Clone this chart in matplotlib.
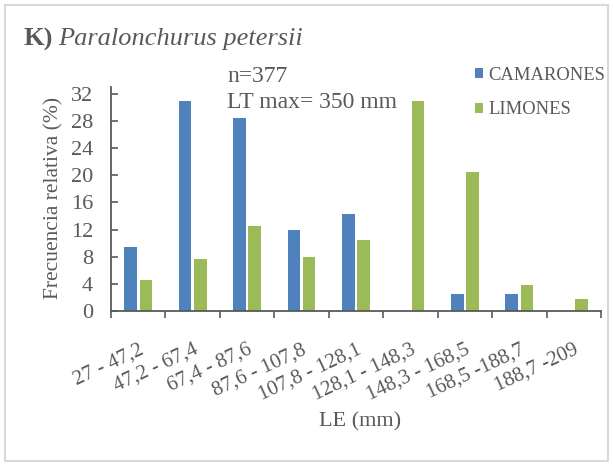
import numpy as np
import matplotlib.pyplot as plt
from matplotlib.patches import Rectangle

# Data
categories = ["27 - 47,2", "47,2 - 67,4", "67,4 - 87,6", "87,6 - 107,8", "107,8 - 128,1",
              "128,1 - 148,3", "148,3 - 168,5", "168,5 -188,7", "188,7 -209"]
camarones = [9.5, 31.0, 28.5, 12.0, 14.3, 0.0, 2.5, 2.5, 0.0]
limones = [4.5, 7.6, 12.5, 8.0, 10.5, 31.0, 20.5, 3.8, 1.7]
y_ticks = [0, 4, 8, 12, 16, 20, 24, 28, 32]

serif = ['Liberation Serif', 'DejaVu Serif']
plt.rcParams['font.family'] = serif
grey = '#595959'

fig = plt.figure(figsize=(6.13, 4.66), dpi=100)
ax = fig.add_axes([111 / 613, 1 - 311 / 466, 490 / 613, 224 / 466])

x = np.arange(len(categories))
w = 0.23
ax.bar(x - 0.14, camarones, w, color='#4F81BD', label='CAMARONES')
ax.bar(x + 0.14, limones, w, color='#9BBB59', label='LIMONES')

ax.set_xlim(-0.5, len(categories) - 0.5)
ax.set_ylim(0, 33)
ax.set_yticks(y_ticks)
ax.set_xticks(x)
ax.set_xticklabels(categories, rotation=25, ha='right', rotation_mode='anchor')
ax.set_xticks(np.arange(len(categories) + 1) - 0.5, minor=True)
ax.tick_params(axis='x', which='major', length=0, pad=21, labelsize=15, labelcolor=grey)
ax.tick_params(axis='x', which='minor', length=5, direction='out', color=grey, width=1.2)
ax.tick_params(axis='y', length=5, direction='in', color=grey, width=1.2,
               labelsize=16, labelcolor=grey, pad=13)

for s in ['top', 'right']:
    ax.spines[s].set_visible(False)
for s in ['left', 'bottom']:
    ax.spines[s].set_color(grey)
    ax.spines[s].set_linewidth(1.3)

fig.text(54 / 613, 1 - 198 / 466, 'Frecuencia relativa (%)', fontsize=15.5, color=grey,
         rotation=90, ha='center', va='center')
fig.text(360 / 613, 1 - 422 / 466, 'LE (mm)', fontsize=16, color=grey,
         ha='center', va='center')

# title
fig.text(24 / 613, 1 - 39 / 466, 'K)', fontsize=19, color=grey, weight='bold',
         ha='left', va='center')
fig.text(58 / 613, 1 - 39 / 466, 'Paralonchurus petersii', fontsize=19, color=grey,
         style='italic', ha='left', va='center')

# annotation
fig.text(227 / 613, 1 - 76 / 466, 'n=377', fontsize=17, color=grey, ha='left', va='center')
fig.text(227 / 613, 1 - 102 / 466, 'LT max= 350 mm', fontsize=17, color=grey,
         ha='left', va='center')

# legend
fig.legend(loc='upper left', bbox_to_anchor=(458 / 613, 1 - 50 / 466), frameon=False,
           prop={'family': serif, 'size': 13.4}, labelcolor=grey, handlelength=0.45,
           handleheight=0.45, handletextpad=0.3, labelspacing=0.95)

# outer border
fig.patches.append(Rectangle((5 / 613, 5 / 466), 603 / 613, 456 / 466, transform=fig.transFigure,
                             fill=False, edgecolor='#D9D9D9', linewidth=1.5))

fig.savefig('out.png', dpi=100)
